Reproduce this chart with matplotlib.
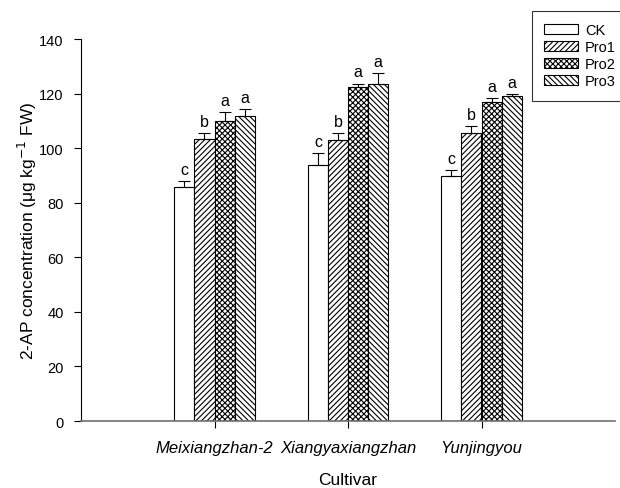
import numpy as np
import matplotlib
matplotlib.use('Agg')
import matplotlib.pyplot as plt

plt.rcParams['font.family'] = ['Liberation Sans', 'DejaVu Sans']
plt.rcParams['hatch.linewidth'] = 0.8

cultivars = ['Meixiangzhan-2', 'Xiangyaxiangzhan', 'Yunjingyou']
treatments = ['CK', 'Pro1', 'Pro2', 'Pro3']
ck = [85.6, 93.9, 89.9]
pro1 = [103.3, 103.1, 105.6]
pro2 = [109.8, 122.6, 117.1]
pro3 = [111.9, 123.7, 119.0]
ck_err = [2.5, 4.4, 2.0]
pro1_err = [2.3, 2.3, 2.6]
pro2_err = [3.3, 1.1, 1.3]
pro3_err = [2.4, 3.8, 0.7]
letters = [['c', 'c', 'c'], ['b', 'b', 'b'], ['a', 'a', 'a'], ['a', 'a', 'a']]

values = [ck, pro1, pro2, pro3]
errors = [ck_err, pro1_err, pro2_err, pro3_err]
hatches = ['', '//////', 'xxxxxx', '\\\\\\\\\\\\']

fig = plt.figure(figsize=(6.2, 4.89), dpi=100)
ax = fig.add_axes([81 / 620, 0.137, (615 - 81) / 620, 0.781])

x = np.arange(1, len(cultivars) + 1)
width = 0.15
offsets = [-0.225, -0.075, 0.075, 0.225]
for i in range(4):
    ax.bar(x + offsets[i], values[i], width, color='white', edgecolor='black',
           linewidth=0.8, hatch=hatches[i], label=treatments[i], zorder=2)
    ax.errorbar(x + offsets[i], values[i], yerr=[np.zeros(3), errors[i]], fmt='none',
                ecolor='black', elinewidth=0.8, capsize=4, capthick=0.8, zorder=3)
    for j in range(3):
        ax.text(x[j] + offsets[i], values[i][j] + errors[i][j] + 1.5, letters[i][j],
                ha='center', va='bottom', fontsize=11.5)

ax.set_xlim(0, 4)
ax.set_ylim(0, 140)
ax.set_yticks(np.arange(0, 141, 20))
ax.set_xticks(x)
ax.set_xticklabels(cultivars, fontstyle='italic', fontsize=12)
ax.tick_params(axis='y', labelsize=10.5, direction='out', length=5, pad=7.5)
ax.tick_params(axis='x', direction='out', length=5, pad=9)
ax.spines['top'].set_visible(False)
ax.spines['right'].set_visible(False)
ax.spines['bottom'].set_color('#707070')
ax.spines['bottom'].set_linewidth(1.2)

ax.set_ylabel('2-AP concentration (\u03bcg kg$^{-1}$ FW)', fontsize=12.5, labelpad=0)
ax.set_xlabel('Cultivar', fontsize=12.5, labelpad=12)

leg = ax.legend(loc='upper left', bbox_to_anchor=(532 / 620, 1 - 12 / 489),
                bbox_transform=fig.transFigure, frameon=True, fancybox=False,
                edgecolor='black', fontsize=10.5, handlelength=2.3, handleheight=0.7,
                borderpad=0.85, labelspacing=0.2, handletextpad=0.5, borderaxespad=0)
leg.get_frame().set_linewidth(0.8)

fig.savefig('out.png', dpi=100)
